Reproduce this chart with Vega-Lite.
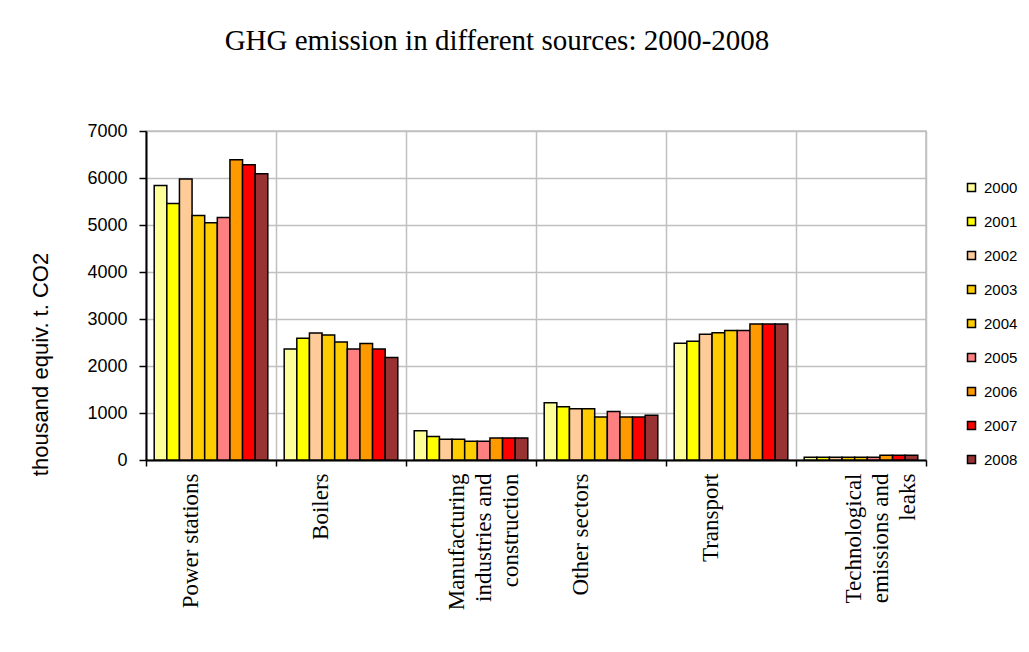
{
  "$schema": "https://vega.github.io/schema/vega-lite/v6.json",
  "width": 780,
  "height": 329,
  "autosize": {"type": "none"},
  "padding": {"left": 146, "top": 131, "right": 103, "bottom": 192},
  "background": "white",
  "title": {
    "text": "GHG emission in different sources: 2000-2008",
    "font": "Liberation Serif",
    "fontSize": 29,
    "fontWeight": "normal",
    "color": "black",
    "anchor": "middle",
    "dx": -39,
    "baseline": "alphabetic",
    "offset": 43
  },
  "data": {
    "values": [
      {"source": "Power stations", "year": "2000", "value": 5840},
      {"source": "Power stations", "year": "2001", "value": 5460},
      {"source": "Power stations", "year": "2002", "value": 5980},
      {"source": "Power stations", "year": "2003", "value": 5200},
      {"source": "Power stations", "year": "2004", "value": 5050},
      {"source": "Power stations", "year": "2005", "value": 5160},
      {"source": "Power stations", "year": "2006", "value": 6390},
      {"source": "Power stations", "year": "2007", "value": 6280},
      {"source": "Power stations", "year": "2008", "value": 6090},
      {"source": "Boilers", "year": "2000", "value": 2360},
      {"source": "Boilers", "year": "2001", "value": 2590},
      {"source": "Boilers", "year": "2002", "value": 2700},
      {"source": "Boilers", "year": "2003", "value": 2660},
      {"source": "Boilers", "year": "2004", "value": 2510},
      {"source": "Boilers", "year": "2005", "value": 2360},
      {"source": "Boilers", "year": "2006", "value": 2480},
      {"source": "Boilers", "year": "2007", "value": 2360},
      {"source": "Boilers", "year": "2008", "value": 2180},
      {"source": "Manufacturing industries and construction", "year": "2000", "value": 620},
      {"source": "Manufacturing industries and construction", "year": "2001", "value": 500},
      {"source": "Manufacturing industries and construction", "year": "2002", "value": 440},
      {"source": "Manufacturing industries and construction", "year": "2003", "value": 440},
      {"source": "Manufacturing industries and construction", "year": "2004", "value": 400},
      {"source": "Manufacturing industries and construction", "year": "2005", "value": 400},
      {"source": "Manufacturing industries and construction", "year": "2006", "value": 470},
      {"source": "Manufacturing industries and construction", "year": "2007", "value": 470},
      {"source": "Manufacturing industries and construction", "year": "2008", "value": 470},
      {"source": "Other sectors", "year": "2000", "value": 1220},
      {"source": "Other sectors", "year": "2001", "value": 1135},
      {"source": "Other sectors", "year": "2002", "value": 1090},
      {"source": "Other sectors", "year": "2003", "value": 1090},
      {"source": "Other sectors", "year": "2004", "value": 915},
      {"source": "Other sectors", "year": "2005", "value": 1030},
      {"source": "Other sectors", "year": "2006", "value": 915},
      {"source": "Other sectors", "year": "2007", "value": 915},
      {"source": "Other sectors", "year": "2008", "value": 950},
      {"source": "Transport", "year": "2000", "value": 2485},
      {"source": "Transport", "year": "2001", "value": 2525},
      {"source": "Transport", "year": "2002", "value": 2675},
      {"source": "Transport", "year": "2003", "value": 2710},
      {"source": "Transport", "year": "2004", "value": 2755},
      {"source": "Transport", "year": "2005", "value": 2755},
      {"source": "Transport", "year": "2006", "value": 2895},
      {"source": "Transport", "year": "2007", "value": 2895},
      {"source": "Transport", "year": "2008", "value": 2895},
      {"source": "Technological emissions and leaks", "year": "2000", "value": 60},
      {"source": "Technological emissions and leaks", "year": "2001", "value": 60},
      {"source": "Technological emissions and leaks", "year": "2002", "value": 60},
      {"source": "Technological emissions and leaks", "year": "2003", "value": 60},
      {"source": "Technological emissions and leaks", "year": "2004", "value": 60},
      {"source": "Technological emissions and leaks", "year": "2005", "value": 60},
      {"source": "Technological emissions and leaks", "year": "2006", "value": 100},
      {"source": "Technological emissions and leaks", "year": "2007", "value": 100},
      {"source": "Technological emissions and leaks", "year": "2008", "value": 100}
    ]
  },
  "mark": {"type": "bar", "stroke": "black", "strokeWidth": 1.5},
  "encoding": {
    "x": {
      "field": "source",
      "type": "nominal",
      "sort": ["Power stations", "Boilers", "Manufacturing industries and construction", "Other sectors", "Transport", "Technological emissions and leaks"],
      "scale": {"paddingInner": 0, "paddingOuter": 0},
      "axis": {
        "title": null,
        "tickBand": "extent",
        "grid": true,
        "gridColor": "#c0c0c0",
        "gridWidth": 1.5,
        "domainColor": "black",
        "domainWidth": 2,
        "tickColor": "black",
        "tickSize": 6,
        "tickWidth": 1.5,
        "labelAngle": -90,
        "labelFont": "Liberation Serif",
        "labelFontSize": 23,
        "labelColor": "black",
        "labelPadding": 7,
        "labelLineHeight": 27,
        "labelLimit": 300,
        "labelExpr": "datum.label == 'Manufacturing industries and construction' ? ['Manufacturing', 'industries and', 'construction'] : datum.label == 'Technological emissions and leaks' ? ['Technological', 'emissions and', 'leaks'] : datum.label",
        "labelOffset": {"condition": [{"test": "datum.value == 'Technological emissions and leaks'", "value": -8}, {"test": "datum.value == 'Manufacturing industries and construction'", "value": -15}], "value": -21}
      }
    },
    "xOffset": {
      "field": "year",
      "type": "nominal",
      "scale": {"paddingInner": 0, "paddingOuter": 0.65}
    },
    "y": {
      "field": "value",
      "type": "quantitative",
      "scale": {"domain": [0, 7000], "nice": false},
      "axis": {
        "title": "thousand equiv. t. CO2",
        "values": [0, 1000, 2000, 3000, 4000, 5000, 6000, 7000],
        "format": "d",
        "grid": true,
        "gridColor": "#c0c0c0",
        "gridWidth": 1.5,
        "domainColor": "black",
        "domainWidth": 2,
        "tickColor": "black",
        "tickSize": 7,
        "tickWidth": 1.5,
        "labelFont": "Liberation Sans",
        "labelFontSize": 18,
        "labelColor": "black",
        "labelPadding": 12,
        "titleFont": "Liberation Sans",
        "titleFontSize": 22,
        "titleFontWeight": "normal",
        "titleColor": "black",
        "titleAngle": -90,
        "titleX": -99,
        "titleY": 233,
        "titleAlign": "center",
        "titleBaseline": "alphabetic"
      }
    },
    "color": {
      "field": "year",
      "type": "nominal",
      "scale": {
        "domain": ["2000", "2001", "2002", "2003", "2004", "2005", "2006", "2007", "2008"],
        "range": ["#FFFF99", "#FFFF00", "#FFCC99", "#FFCC00", "#FFCC00", "#FF8080", "#FF9900", "#FF0000", "#993333"]
      },
      "legend": {
        "title": null,
        "orient": "none",
        "legendX": 818,
        "legendY": 49,
        "padding": 0,
        "symbolType": "square",
        "symbolSize": 64,
        "symbolStrokeColor": "black",
        "symbolStrokeWidth": 1.5,
        "labelFont": "Liberation Sans",
        "labelFontSize": 15,
        "labelColor": "black",
        "labelOffset": 5,
        "rowPadding": 18
      }
    }
  },
  "config": {
    "view": {"stroke": "#c0c0c0", "strokeWidth": 1.5}
  }
}
